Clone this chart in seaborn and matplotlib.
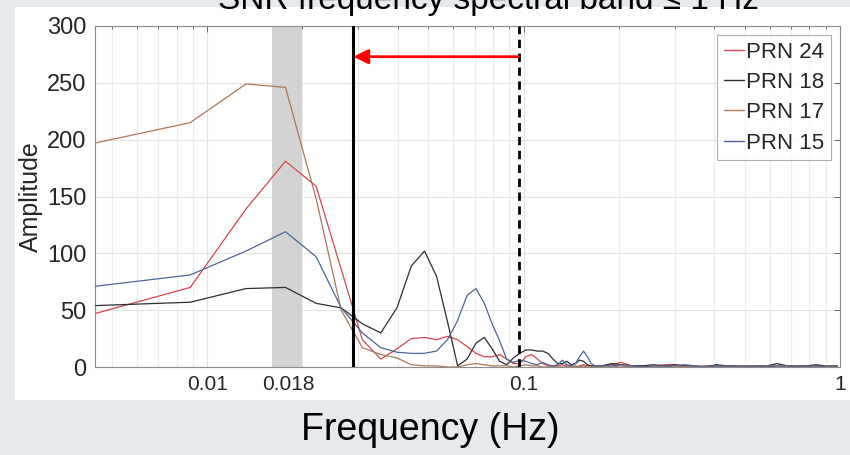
# Imports

import numpy as np
import pandas as pd
import matplotlib
matplotlib.use("Agg")
import matplotlib.pyplot as plt
import seaborn as sns
from matplotlib.ticker import FixedLocator, LogLocator, NullFormatter

# Data

DF = 0.00442  # frequency resolution, Hz
BINS = list(range(1, 41)) + [43, 46, 50, 54, 58, 63, 68, 73, 79, 85, 92, 99,
                             107, 115, 124, 133, 143, 154, 165, 177, 190, 204, 222]

PRN24 = [47, 70, 139, 181, 159, 86, 24, 7, 16, 25, 26, 24, 27, 24, 18, 12, 9, 9, 11, 7,
         3, 3, 9, 11, 7, 3, 1, 1, 1, 2, 1, 1, 0, 1, 2, 1, 1, 0, 1, 1,
         2, 4, 1, 1, 1, 2, 2, 1, 0, 1, 1, 0, 1, 1, 0, 1, 1, 0, 1, 0, 1, 0, 0]
PRN18 = [54, 57, 69, 70, 56, 52, 38, 30, 52, 89, 102, 80, 40, 1, 7, 21, 26, 16, 5, 2,
         8, 12, 15, 15, 14, 14, 12, 7, 3, 3, 5, 2, 3, 6, 5, 2, 1, 1, 1, 1,
         3, 2, 1, 1, 2, 1, 2, 1, 1, 0, 2, 1, 1, 0, 1, 1, 3, 1, 1, 1, 2, 1, 1]
PRN17 = [197, 215, 249, 246, 148, 50, 17, 11, 8, 2, 1, 1, 0, 0, 2, 3, 2, 1, 1, 1,
         0, 1, 2, 1, 1, 0, 0, 1, 0, 0, 0, 0, 1, 0, 1, 0, 0, 0, 0, 0,
         0, 1, 0, 0, 1, 0, 1, 0, 0, 1, 0, 0, 1, 0, 0, 1, 0, 0, 1, 0, 0, 1, 0]
PRN15 = [71, 81, 102, 119, 97, 52, 30, 17, 13, 12, 12, 14, 24, 41, 63, 69, 56, 38, 23, 7,
         4, 6, 5, 3, 2, 4, 2, 1, 2, 6, 2, 1, 3, 9, 14, 9, 3, 1, 1, 1,
         1, 2, 1, 0, 1, 1, 1, 2, 1, 0, 1, 1, 0, 1, 1, 0, 1, 1, 0, 1, 1, 0, 0]

SERIES = ["PRN 24", "PRN 18", "PRN 17", "PRN 15"]
COLORS = ["#d6454f", "#2e2e2e", "#a8785a", "#4f6596"]

XTICKS = [0.01, 0.018, 0.1, 1]
XTICK_LABELS = ["0.01", "0.018", "0.1", "1"]
BAND = (0.016, 0.02)
F_LOW = 0.029
F_HIGH = 0.0965
ARROW_Y = 273

TITLE = "SNR frequency spectral band \u2264 1 Hz"

# Build table

freq = [k * DF for k in BINS]
df = pd.concat(
    [pd.DataFrame({"Frequency": freq, "Amplitude": vals, "PRN": name})
     for name, vals in zip(SERIES, [PRN24, PRN18, PRN17, PRN15])],
    ignore_index=True,
)

# Plot

sns.set_theme(style="white")
plt.rcParams["font.family"] = ["Liberation Sans", "DejaVu Sans"]

fig = plt.figure(figsize=(8.5, 4.55), dpi=100, facecolor="#e6eaee")
fig.patches.append(plt.Rectangle((15 / 850, 1 - 400 / 455), 1, 393 / 455,
                                 transform=fig.transFigure, facecolor="white",
                                 edgecolor="none", zorder=-5))
ax = fig.add_axes([95 / 850, 1 - 367 / 455, 745 / 850, 341 / 455])
ax.set_zorder(2)

ax.axvspan(*BAND, color="#d3d3d3", lw=0, zorder=1)

sns.lineplot(data=df, x="Frequency", y="Amplitude", hue="PRN", hue_order=SERIES,
             palette=COLORS, sort=False, linewidth=0.9, ax=ax, zorder=3)

ax.axvline(F_LOW, color="black", lw=2.2, zorder=4)
ax.axvline(F_HIGH, color="black", lw=2.0, ls=(0, (3, 2)), zorder=4)
ax.annotate("", xy=(F_LOW, ARROW_Y), xytext=(F_HIGH, ARROW_Y),
            arrowprops=dict(arrowstyle="-|>", color="red", lw=2,
                            mutation_scale=22, shrinkA=0, shrinkB=0), zorder=5)

ax.set_xscale("log")
ax.set_xlim(DF, 1)
ax.set_ylim(0, 300)
ax.xaxis.set_major_locator(FixedLocator(XTICKS))
ax.set_xticklabels(XTICK_LABELS)
ax.xaxis.set_minor_locator(LogLocator(base=10, subs=np.arange(2, 10)))
ax.xaxis.set_minor_formatter(NullFormatter())
ax.set_yticks(range(0, 301, 50))

ax.grid(True, which="major", color="#e3e3e3", lw=0.8, zorder=0)
ax.grid(True, which="minor", axis="x", color="#ececec", lw=0.8, zorder=0)
ax.set_axisbelow(True)
ax.tick_params(which="both", direction="in", top=True, right=True,
               color="#555555", width=0.6)
ax.tick_params(which="major", length=4, pad=6)
ax.tick_params(which="minor", length=2)
ax.tick_params(axis="y", labelsize=17, colors="#555555", labelcolor="#262626")
ax.tick_params(axis="x", labelsize=15, colors="#555555", labelcolor="#262626")
for s in ax.spines.values():
    s.set_color("#8c8c8c")
    s.set_linewidth(0.8)

ax.set_xlabel("")
ax.set_ylabel("Amplitude", fontsize=18, color="#262626", labelpad=3)

leg = ax.legend(loc="upper right", fontsize=16, frameon=True, fancybox=False,
                handlelength=0.9, handletextpad=0.1, borderpad=0.3,
                labelspacing=0.42, borderaxespad=0.4)
leg.get_frame().set_edgecolor("#9a9a9a")
leg.get_frame().set_linewidth(0.8)
for line in leg.get_lines():
    line.set_linewidth(1.0)

fig.text(0.575, 1 - 9 / 455, TITLE, ha="center", va="baseline", fontsize=24,
         color="black")
fig.text(0.506, 1 - 440 / 455, "Frequency (Hz)", ha="center", va="baseline",
         fontsize=27, color="black")

fig.savefig("out.png", dpi=100, facecolor=fig.get_facecolor())
